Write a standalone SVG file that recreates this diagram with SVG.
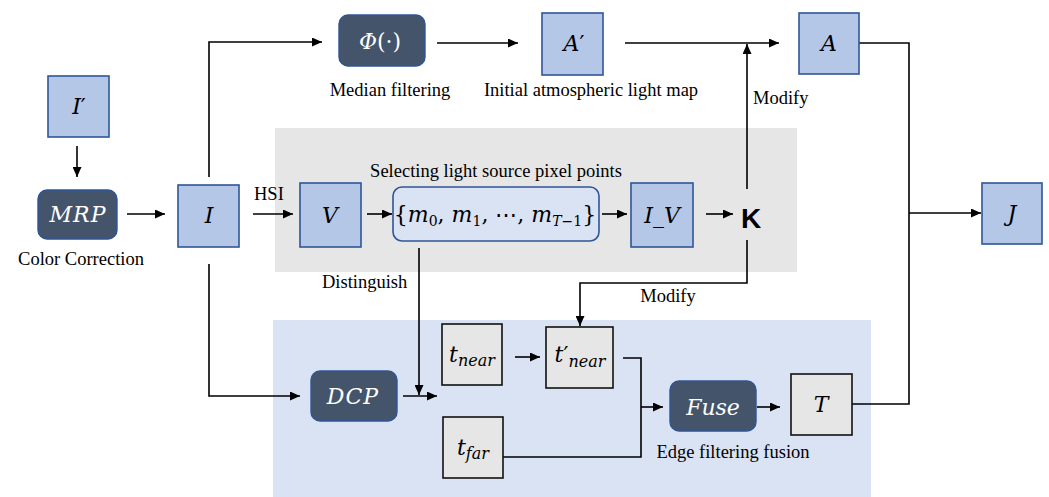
<svg xmlns="http://www.w3.org/2000/svg" width="1049" height="497" viewBox="0 0 1049 497">
  <style>
    .bg { fill: #ffffff; }
    .zone-gray { fill: #e6e6e6; }
    .zone-blue { fill: #dae3f3; }
    .box-blue { fill: #b4c7e7; stroke: #2f5597; stroke-width: 1.6; }
    .box-light { fill: #dae3f3; stroke: #2f5597; stroke-width: 1.6; }
    .box-dark { fill: #44546a; stroke: #2f5597; stroke-width: 1.4; }
    .box-gray { fill: #e7e6e6; stroke: #111111; stroke-width: 1.6; }
    .math { font-family: 'DejaVu Serif', 'Liberation Serif', serif; font-style: italic; font-size: 22px; fill: #000000; text-anchor: middle; }
    .math-w { font-family: 'DejaVu Serif', 'Liberation Serif', serif; font-style: italic; font-size: 22px; fill: #ffffff; text-anchor: middle; }
    .up { font-style: normal; }
    .label { font-family: 'Liberation Serif', 'Times New Roman', serif; font-size: 18.5px; fill: #000000; }
    .mid { text-anchor: middle; }
    .k { font-family: 'Liberation Sans', Arial, sans-serif; font-weight: bold; font-size: 28px; fill: #000000; text-anchor: middle; }
    .wire { fill: none; stroke: #000000; stroke-width: 1.6; }
  </style>
  <defs>
    <marker id="arrow" markerUnits="userSpaceOnUse" markerWidth="11" markerHeight="9" refX="10" refY="4.5" orient="auto">
      <path d="M0,0 L10,4.5 L0,9 z" fill="#000000"/>
    </marker>
  </defs>

  <rect class="bg" x="0" y="0" width="1049" height="497"/>

  <!-- processing zones -->
  <rect id="zone-light-source" class="zone-gray" x="275" y="128" width="522" height="144"/>
  <rect id="zone-transmission" class="zone-blue" x="273" y="320" width="598" height="177"/>

  <!-- connectors -->
  <g id="connectors">
    <path class="wire" d="M77,146 V177" marker-end="url(#arrow)"/>
    <path class="wire" d="M127,214 H165" marker-end="url(#arrow)"/>
    <path class="wire" d="M209,177 V42 H322" marker-end="url(#arrow)"/>
    <path class="wire" d="M437,43 H518" marker-end="url(#arrow)"/>
    <path class="wire" d="M625,43 H779" marker-end="url(#arrow)"/>
    <path class="wire" d="M747,189 V44" marker-end="url(#arrow)"/>
    <path class="wire" d="M253,214 H293" marker-end="url(#arrow)"/>
    <path class="wire" d="M367,214 H392" marker-end="url(#arrow)"/>
    <path class="wire" d="M602,214 H627" marker-end="url(#arrow)"/>
    <path class="wire" d="M706,214 H733" marker-end="url(#arrow)"/>
    <path class="wire" d="M747,240 V283 H580 V326" marker-end="url(#arrow)"/>
    <path class="wire" d="M859,43 H909 V404 H852"/>
    <path class="wire" d="M909,213 H981" marker-end="url(#arrow)"/>
    <path class="wire" d="M209,264 V396 H300" marker-end="url(#arrow)"/>
    <path class="wire" d="M403,396 H437" marker-end="url(#arrow)"/>
    <path class="wire" d="M419,248 V395" marker-end="url(#arrow)"/>
    <path class="wire" d="M515,357 H540" marker-end="url(#arrow)"/>
    <path class="wire" d="M623,358 H641 V457 H503"/>
    <path class="wire" d="M641,407 H663" marker-end="url(#arrow)"/>
    <path class="wire" d="M757,407 H780" marker-end="url(#arrow)"/>
  </g>

  <!-- nodes -->
  <g id="node-I-prime">
    <rect class="box-blue" x="48" y="76" width="61" height="61"/>
    <text class="math" x="79" y="114">I<tspan class="up">′</tspan></text>
  </g>
  <g id="node-MRP">
    <rect class="box-dark" x="38" y="190" width="79" height="49" rx="9"/>
    <text class="math-w" x="78" y="222" letter-spacing="1">MRP</text>
    <text class="label mid" x="81" y="265">Color Correction</text>
  </g>
  <g id="node-I">
    <rect class="box-blue" x="178" y="185" width="61" height="62"/>
    <text class="math" x="209" y="223">I</text>
  </g>
  <g id="node-phi">
    <rect class="box-dark" x="339" y="15" width="86" height="51" rx="9"/>
    <text class="math-w" x="380" y="49" font-size="24">Φ<tspan class="up">(·)</tspan></text>
    <text class="label mid" x="390" y="96">Median filtering</text>
  </g>
  <g id="node-A-prime">
    <rect class="box-blue" x="542" y="13" width="61" height="62"/>
    <text class="math" x="574" y="51">A<tspan class="up">′</tspan></text>
    <text class="label mid" x="591" y="96">Initial atmospheric light map</text>
  </g>
  <g id="node-A">
    <rect class="box-blue" x="799" y="13" width="60" height="61"/>
    <text class="math" x="829" y="51">A</text>
    <text class="label" x="753" y="104">Modify</text>
  </g>
  <g id="node-V">
    <rect class="box-blue" x="300" y="183" width="61" height="64"/>
    <text class="math" x="330" y="223">V</text>
    <text class="label" x="254" y="200">HSI</text>
  </g>
  <g id="node-set">
    <rect class="box-light" x="393" y="187" width="206" height="54" rx="9"/>
    <text class="math" x="495" y="222" font-size="21"><tspan class="up">{</tspan>m<tspan font-size="14" class="up" dy="4">0</tspan><tspan class="up" dy="-4">, </tspan>m<tspan font-size="14" class="up" dy="4">1</tspan><tspan class="up" dy="-4">, ⋯, </tspan>m<tspan font-size="14" dy="4">T</tspan><tspan font-size="14" class="up">−1</tspan><tspan class="up" dy="-4">}</tspan></text>
    <text class="label mid" x="496" y="177">Selecting light source pixel points</text>
    <text class="label" x="322" y="288">Distinguish</text>
  </g>
  <g id="node-I-V">
    <rect class="box-blue" x="631" y="183" width="62" height="64"/>
    <text class="math" x="662" y="223">I_V</text>
  </g>
  <g id="node-K">
    <text class="k" x="751" y="228">K</text>
    <text class="label mid" x="668" y="302">Modify</text>
  </g>
  <g id="node-J">
    <rect class="box-blue" x="982" y="183" width="60" height="61"/>
    <text class="math" x="1012" y="221">J</text>
  </g>
  <g id="node-DCP">
    <rect class="box-dark" x="311" y="371" width="86" height="50" rx="9"/>
    <text class="math-w" x="353" y="404" letter-spacing="1">DCP</text>
  </g>
  <g id="node-t-near">
    <rect class="box-gray" x="442" y="324" width="60" height="61"/>
    <text class="math" x="472" y="362">t<tspan font-size="16" dy="4">near</tspan></text>
  </g>
  <g id="node-t-near-prime">
    <rect class="box-gray" x="546" y="327" width="67" height="61"/>
    <text class="math" x="580" y="362">t<tspan class="up">′</tspan><tspan font-size="16" dy="5">near</tspan></text>
  </g>
  <g id="node-t-far">
    <rect class="box-gray" x="443" y="417" width="60" height="61"/>
    <text class="math" x="473" y="455">t<tspan font-size="16" dy="4">far</tspan></text>
  </g>
  <g id="node-Fuse">
    <rect class="box-dark" x="670" y="381" width="86" height="50" rx="9"/>
    <text class="math-w" x="713" y="415">Fuse</text>
    <text class="label mid" x="733" y="458">Edge filtering fusion</text>
  </g>
  <g id="node-T">
    <rect class="box-gray" x="791" y="374" width="61" height="61"/>
    <text class="math" x="821" y="412">T</text>
  </g>
</svg>
